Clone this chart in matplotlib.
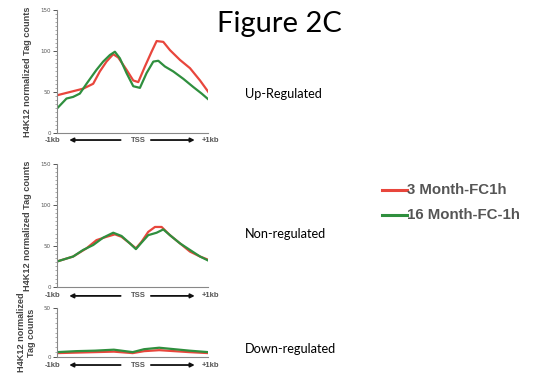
import matplotlib
matplotlib.use('Agg')
from matplotlib import pyplot as plt
from matplotlib.ticker import MultipleLocator

# positions along the region around TSS, in kb
up_red_x = [-1.0, -0.656, -0.523, -0.435, -0.347, -0.258, -0.192, -0.082, 0.007, 0.073,
            0.161, 0.249, 0.316, 0.404, 0.492, 0.625, 0.757, 0.890, 1.0]
up_red_y = [46, 54, 60, 75, 87, 96, 92, 77, 64, 62, 81, 99, 112, 111, 101, 89, 79, 64, 50]
up_green_x = [-1.0, -0.876, -0.788, -0.700, -0.611, -0.479, -0.391, -0.302, -0.236, -0.170,
              -0.082, 0.007, 0.095, 0.183, 0.272, 0.338, 0.426, 0.536, 0.669, 0.801, 0.912, 1.0]
up_green_y = [30, 42, 44, 48, 60, 77, 87, 95, 99, 91, 73, 57, 55, 73, 87, 88, 81, 75, 66, 56, 48, 41]

non_red_x = [-1.0, -0.788, -0.611, -0.479, -0.347, -0.236, -0.148, -0.038, 0.042, 0.117,
             0.205, 0.294, 0.382, 0.492, 0.625, 0.757, 0.890, 1.0]
non_red_y = [31, 37, 47, 57, 61, 64, 61, 53, 47, 55, 67, 73, 73, 63, 53, 43, 37, 33]
non_green_x = [-1.0, -0.788, -0.656, -0.523, -0.391, -0.258, -0.148, -0.038, 0.042, 0.117,
               0.205, 0.316, 0.404, 0.492, 0.625, 0.757, 0.890, 1.0]
non_green_y = [31, 37, 45, 51, 60, 66, 62, 53, 46, 54, 63, 66, 70, 63, 53, 45, 37, 32]

down_x = [-1.0, -0.75, -0.5, -0.25, 0.0, 0.15, 0.35, 0.55, 0.75, 1.0]
down_red_y = [4, 4.5, 5, 5.5, 4, 6, 7, 6, 5, 4]
down_green_y = [5, 6, 6.5, 7.5, 5, 8, 9.5, 8, 6.5, 5]

legend_labels = ['3 Month-FC1h', '16 Month-FC-1h']
panel_names = ['Up-Regulated', 'Non-regulated', 'Down-regulated']

red = '#e8463c'
green = '#2f8f3e'
ylab = 'H4K12 normalized Tag counts'

W, H = 544, 379
fig = plt.figure(figsize=(W / 100, H / 100), dpi=100)

def panel(rect, rx, ry, gx, gy, ymax, major, label, off_px):
    ax = fig.add_axes(rect)
    ax.plot(rx, ry, color=red, lw=1.6)
    ax.plot(gx, gy, color=green, lw=1.6)
    ax.set_xlim(-1.0, 1.0)
    ax.set_ylim(0, ymax)
    ax.yaxis.set_major_locator(MultipleLocator(major))
    ax.yaxis.set_minor_locator(MultipleLocator(major / 10))
    ax.set_xticks([])
    for s in ['top', 'right']:
        ax.spines[s].set_visible(False)
    for s in ['left', 'bottom']:
        ax.spines[s].set_color('#888888')
        ax.spines[s].set_linewidth(0.8)
    ax.tick_params(axis='y', which='major', labelsize=4, length=3, width=0.7,
                   colors='#555555', pad=1.5)
    ax.tick_params(axis='y', which='minor', length=1.8, width=0.5, colors='#888888')
    ax.set_ylabel(label, fontsize=6.6, color='#444444', fontweight='bold', labelpad=6,
                  family='Liberation Sans', linespacing=1.1)
    ax.patch.set_alpha(0)
    # x-axis annotation: -1kb <---- TSS ----> +1kb
    off = -off_px / (rect[3] * H)
    txt = dict(transform=ax.transAxes, fontsize=5.5, color='#555555', va='center',
               family='Liberation Sans', fontweight='bold')
    ax.text(-0.08, off, '-1kb', ha='left', **txt)
    ax.text(0.535, off, 'TSS', ha='center', **txt)
    ax.text(1.07, off, '+1kb', ha='right', **txt)
    kw = dict(xycoords='axes fraction', textcoords='axes fraction')
    ax.annotate('', xy=(0.08, off), xytext=(0.42, off),
                arrowprops=dict(arrowstyle='-|>', color='#111111', lw=1.3,
                                mutation_scale=6, shrinkA=0, shrinkB=0), **kw)
    ax.annotate('', xy=(0.91, off), xytext=(0.62, off),
                arrowprops=dict(arrowstyle='-|>', color='#111111', lw=1.3,
                                mutation_scale=6, shrinkA=0, shrinkB=0), **kw)
    return ax

panel([0.105, 0.649, 0.278, 0.325], up_red_x, up_red_y, up_green_x, up_green_y,
      150, 50, ylab, 7)
panel([0.105, 0.243, 0.278, 0.325], non_red_x, non_red_y, non_green_x, non_green_y,
      150, 50, ylab, 9)
panel([0.105, 0.058, 0.278, 0.129], down_x, down_red_y, down_x, down_green_y,
      50, 50, 'H4K12 normalized\nTag counts', 8)

fig.text(0.513, 1 - 32 / H, 'Figure 2C', fontsize=21, family='Lato', ha='center',
         va='baseline')
for name, ypx in zip(panel_names, [94, 234, 349]):
    fig.text(245 / W, 1 - ypx / H, name, fontsize=9.2, family='Lato', va='center')

# legend
for lab, col, ypx in zip(legend_labels, [red, green], [190, 215]):
    yf = 1 - ypx / H
    fig.lines.append(plt.Line2D([382 / W, 407 / W], [yf, yf], color=col, lw=2.2,
                                transform=fig.transFigure))
    fig.text(407 / W, yf, lab, fontsize=10.8, fontweight='bold', color='#555555',
             family='Liberation Sans', va='center')

fig.savefig('out.png', dpi=100)
